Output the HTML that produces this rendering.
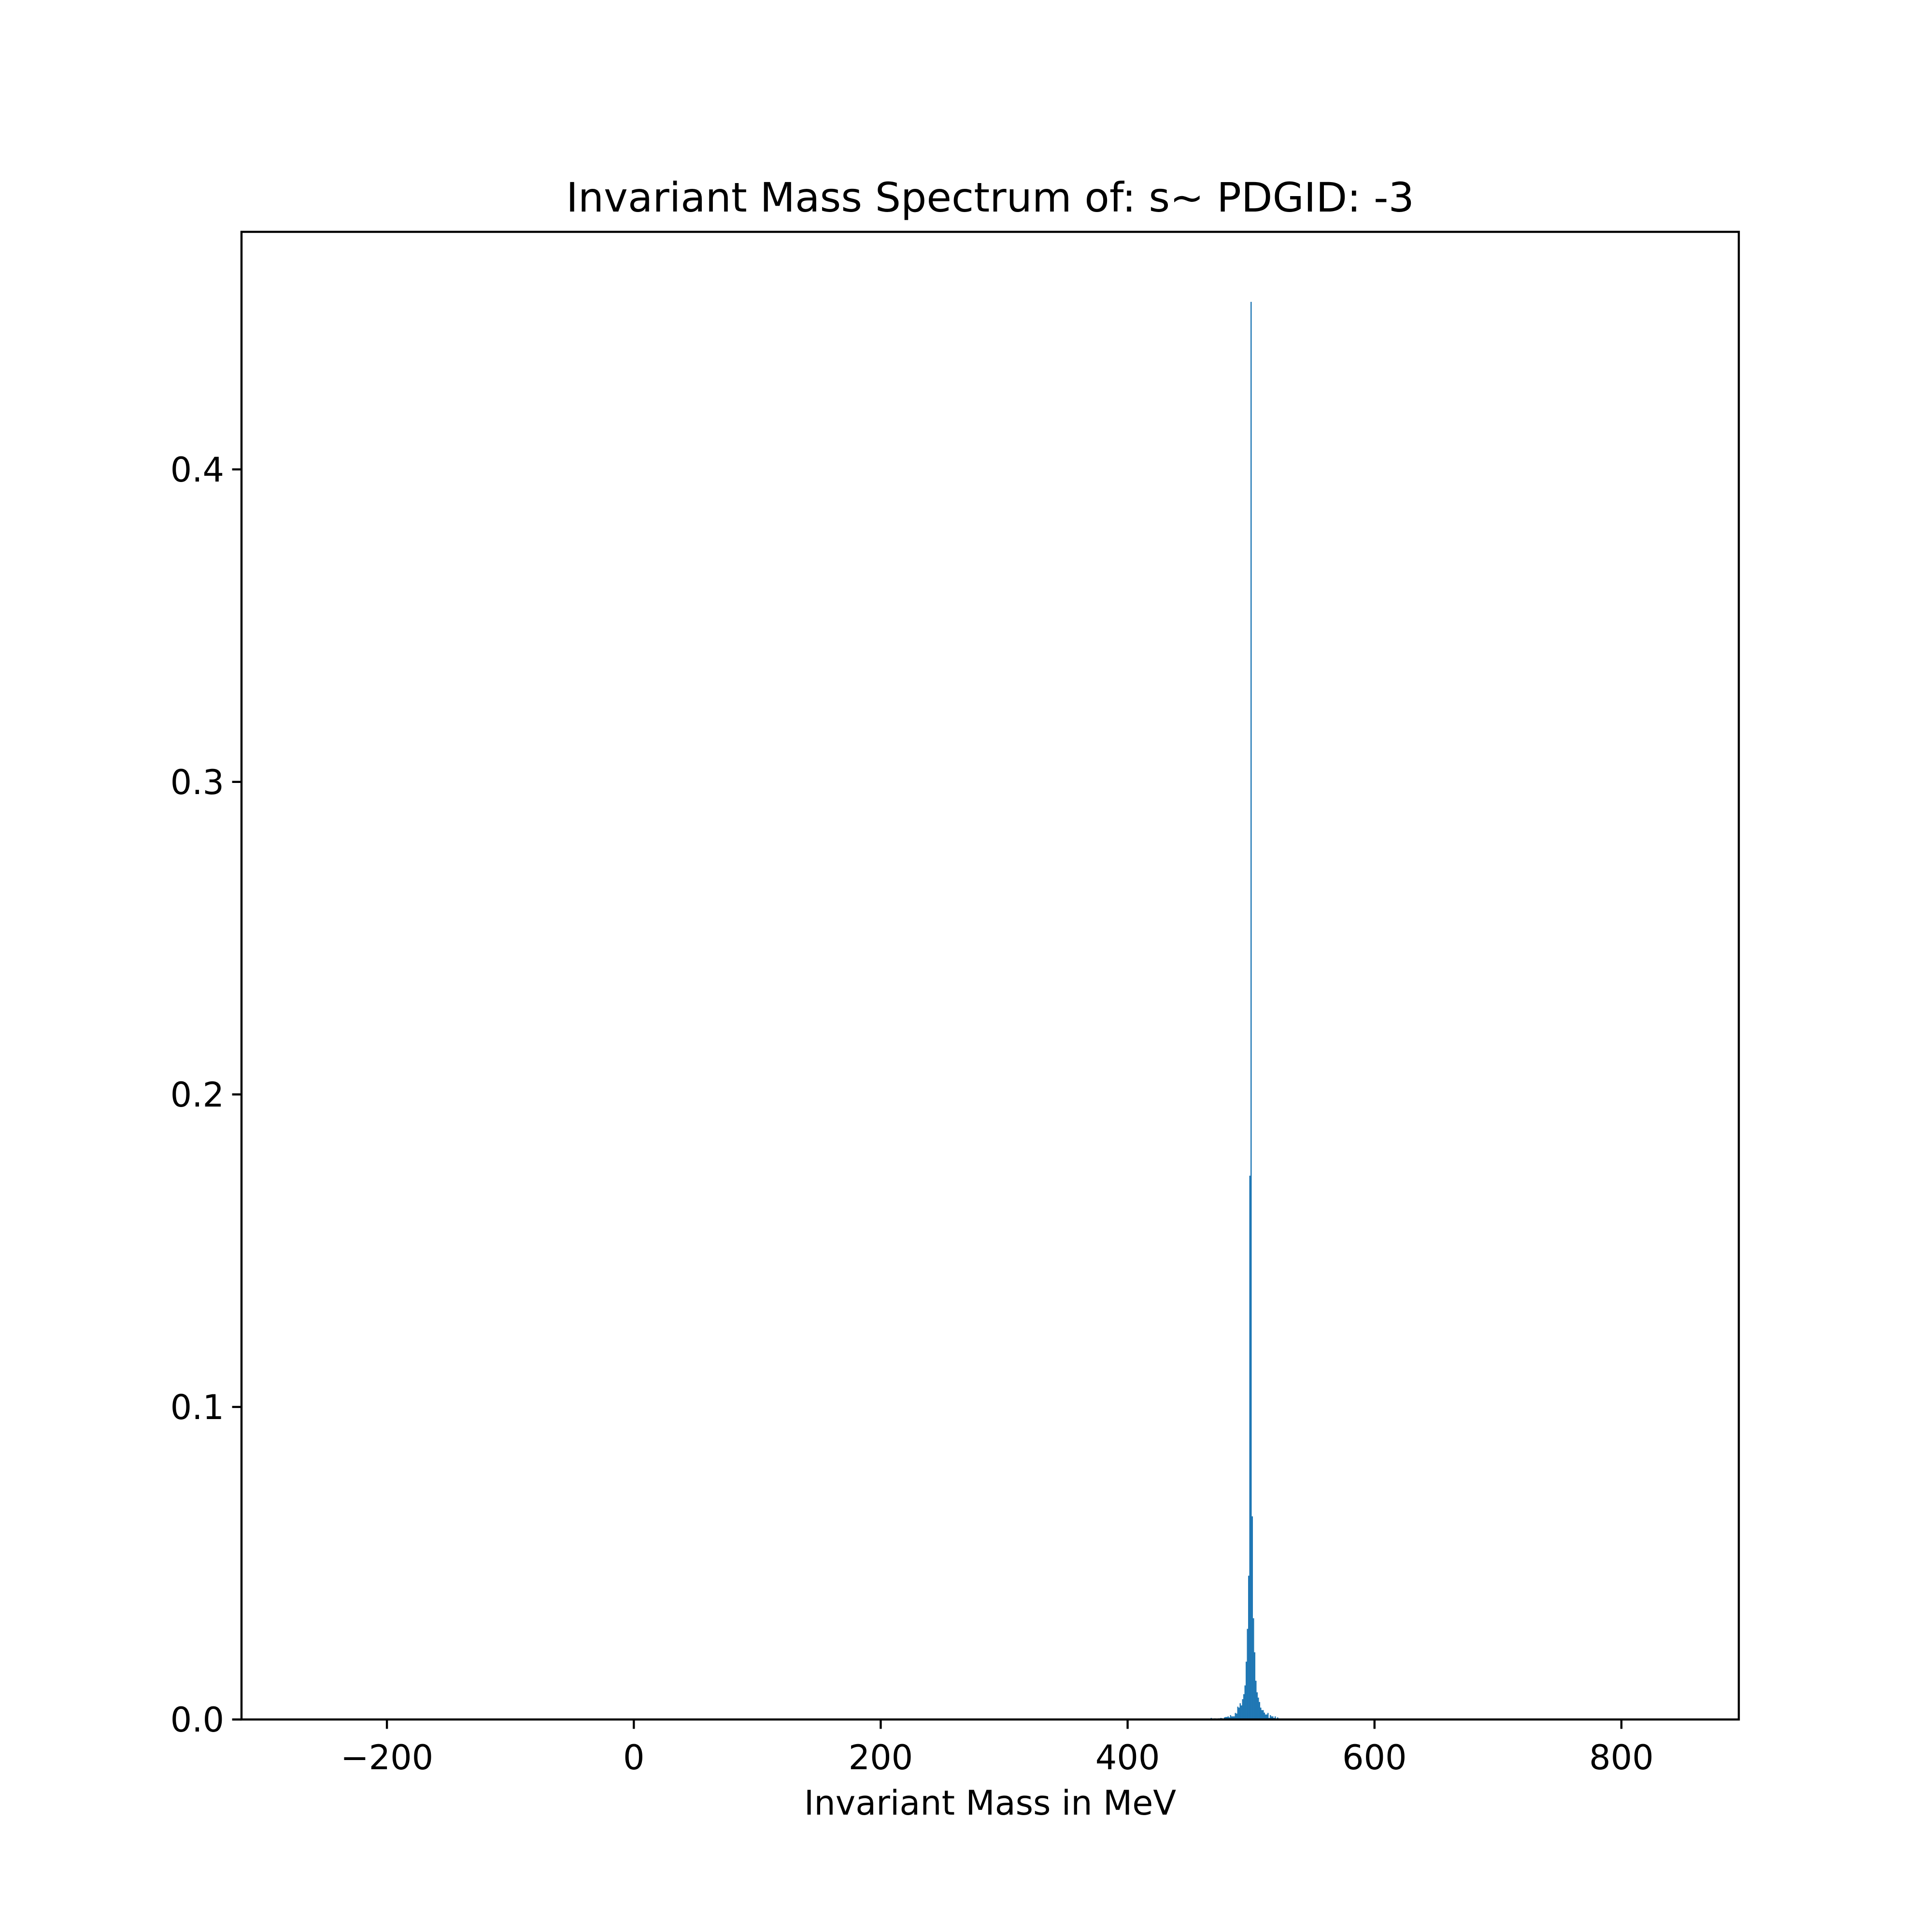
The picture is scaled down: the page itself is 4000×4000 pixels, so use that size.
<!DOCTYPE html>
<html><head><meta charset="utf-8"><style>
html,body{margin:0;padding:0;background:#fff;}
svg{display:block;}
text{font-family:"DejaVu Sans","Liberation Sans",sans-serif;fill:#000;}
</style></head>
<body>
<svg id="chart" width="4000" height="4000" viewBox="0 0 4000 4000" xmlns="http://www.w3.org/2000/svg">
<rect x="0" y="0" width="4000" height="4000" fill="#fff"/>
<text x="2050" y="438" font-size="84" text-anchor="middle">Invariant Mass Spectrum of: s~ PDGID: -3</text>
<g id="bars"></g>
<g id="axes"></g>
<text x="2050" y="3757" font-size="70" text-anchor="middle">Invariant Mass in MeV</text>
</svg>
<script>
const binStart = 467.27;
const binWidth = 0.978;
const binValues = [0.0005,0,0.0002,0.00036,0.0002,0.0002,0.00036,0.00036,0.0005,0.0004,
0.0002,0.00067,0.0008,0.0008,0.001,0.00067,0.0014,0.001,0.001,0.001,
0.0021,0.0019,0.0041,0.0038,0.0052,0.0045,0.0065,0.0081,0.0109,0.0185,
0.029,0.046,0.174,0.4536,0.065,0.0324,0.0215,0.0124,0.0087,0.007,
0.0056,0.0038,0.003,0.003,0.0022,0.0016,0.0016,0.0021,0.0005,0.0014,
0.001,0.001,0.0005,0.001,0.0002,0.00067,0.00036,0,0.0002];
const xTicks = [-200,0,200,400,600,800];
const xTickLabels = ["\u2212200","0","200","400","600","800"];
const yTicks = [0,0.1,0.2,0.3,0.4];
const yTickLabels = ["0.0","0.1","0.2","0.3","0.4"];
const xDomain = [-317.8, 895.1];
const yDomain = [0, 0.476];

const L=500,R=3600,T=480,B=3560;
const NS="http://www.w3.org/2000/svg";
function xs(v){return L+(v-xDomain[0])/(xDomain[1]-xDomain[0])*(R-L);}
function ys(v){return B-(v-yDomain[0])/(yDomain[1]-yDomain[0])*(B-T);}
function mk(tag,attrs,parent){const e=document.createElementNS(NS,tag);for(const k in attrs)e.setAttribute(k,attrs[k]);parent.appendChild(e);return e;}

const bars=document.getElementById('bars');
binValues.forEach((v,i)=>{
  if(v<=0)return;
  const x0=xs(binStart+i*binWidth),x1=xs(binStart+(i+1)*binWidth);
  const r=mk('rect',{x:x0,y:ys(v),width:Math.max(x1-x0,0.5),height:B-ys(v),fill:'#1f77b4'},bars);
  
  
});

const ax=document.getElementById('axes');
xTicks.forEach((t,i)=>{
  const x=xs(t);
  const l=mk('line',{x1:x,x2:x,y1:B,y2:B+19.4,stroke:'#000','stroke-width':4.4},ax);
  
  
  const tx=mk('text',{x:x,y:B+103,'font-size':70,'text-anchor':'middle'},ax);
  tx.textContent=xTickLabels[i];
  
  
});
yTicks.forEach((t,i)=>{
  const y=ys(t);
  const l=mk('line',{x1:L-19.4,x2:L,y1:y,y2:y,stroke:'#000','stroke-width':4.4},ax);
  
  
  const tx=mk('text',{x:L-36,y:y+25,'font-size':70,'text-anchor':'end'},ax);
  tx.textContent=yTickLabels[i];
  
  
});
const frame=mk('rect',{x:L,y:T,width:R-L,height:B-T,fill:'none',stroke:'#000','stroke-width':4.4},ax);


</script>
</body></html>
